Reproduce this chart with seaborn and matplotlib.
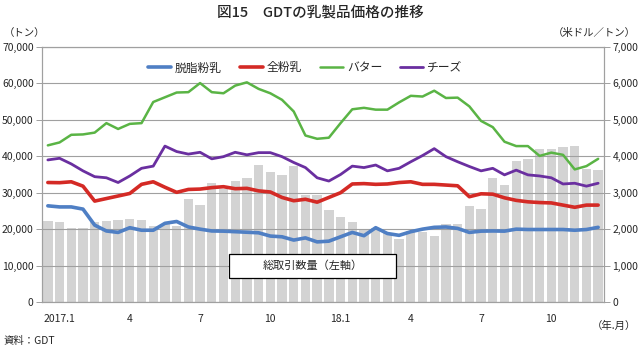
import numpy as np
import pandas as pd
import matplotlib
matplotlib.use("Agg")
import matplotlib.pyplot as plt
import seaborn as sns
from matplotlib.patches import Rectangle
from matplotlib.ticker import FuncFormatter

# GDT auctions, 2 per month, 2017.1 - 2018.12
volume = [22300, 22000, 20200, 20400, 22000, 22300, 22500, 22800, 22500, 21000,
          21500, 21000, 28400, 26500, 32600, 31000, 33300, 34000, 37700, 35600,
          35000, 37200, 29400, 29400, 25200, 23200, 22000, 19900, 20300, 19000,
          17200, 19500, 19300, 18000, 21500, 21500, 26400, 25400, 34100, 32100,
          38700, 39200, 42000, 42000, 42500, 42900, 36400, 36100]
smp = [2640, 2610, 2610, 2550, 2110, 1950, 1910, 2040, 1970, 1970,
       2160, 2210, 2060, 2000, 1950, 1945, 1930, 1915, 1900, 1810,
       1790, 1700, 1760, 1650, 1670, 1790, 1910, 1820, 2040, 1880,
       1830, 1930, 2000, 2050, 2060, 2020, 1910, 1945, 1950, 1945,
       2000, 1990, 1990, 1990, 1990, 1970, 1990, 2050]
wmp = [3280, 3275, 3300, 3180, 2770, 2840, 2910, 2980, 3230, 3300,
       3150, 3010, 3090, 3100, 3140, 3165, 3110, 3120, 3050, 3020,
       2870, 2780, 2820, 2740, 2870, 3000, 3240, 3250, 3230, 3240,
       3280, 3300, 3230, 3230, 3210, 3190, 2890, 2970, 2960, 2860,
       2790, 2750, 2730, 2720, 2660, 2600, 2660, 2660]
butter = [4300, 4380, 4590, 4600, 4650, 4910, 4750, 4890, 4910, 5490,
          5620, 5750, 5760, 6010, 5760, 5730, 5940, 6030, 5850, 5730,
          5550, 5230, 4570, 4480, 4510, 4910, 5290, 5330, 5280, 5280,
          5480, 5660, 5640, 5800, 5600, 5610, 5370, 4970, 4800, 4400,
          4280, 4280, 4010, 4100, 4040, 3640, 3730, 3930]
cheese = [3900, 3945, 3790, 3600, 3440, 3410, 3280, 3460, 3670, 3730,
          4280, 4130, 4060, 4110, 3930, 3990, 4110, 4040, 4100, 4100,
          3990, 3830, 3690, 3410, 3320, 3500, 3730, 3690, 3760, 3600,
          3670, 3850, 4020, 4210, 3990, 3850, 3720, 3600, 3670, 3490,
          3620, 3490, 3460, 3410, 3240, 3260, 3180, 3260]
month_labels = ["2017.1", "4", "7", "10", "18.1", "4", "7", "10"]
label_idx = [1, 7, 13, 19, 25, 31, 37, 43]

series = [("脱脂粉乳", smp, "#4f7fc4", 2.6),
          ("全粉乳", wmp, "#d42a25", 2.6),
          ("バター", butter, "#5ab445", 1.8),
          ("チーズ", cheese, "#6a2fa0", 2.0)]

sns.set_style("white")
plt.rcParams['font.family'] = ['Noto Sans CJK JP', 'DejaVu Sans']
grey = "#a0a0a0"

fig = plt.figure(figsize=(6.4, 3.53), dpi=100)
ax = fig.add_axes([42 / 640, 1 - 302 / 353, 562 / 640, 255 / 353])

n = len(volume)
df = pd.DataFrame({"idx": np.arange(n), "volume": volume})
sns.barplot(data=df, x="idx", y="volume", color="#d3d3d3", saturation=1,
            width=0.8, edgecolor="none", ax=ax, zorder=1)

# 総取引数量 label box
ax.add_patch(Rectangle((0.333, 0.094), 0.297, 0.094, transform=ax.transAxes,
                       facecolor="white", edgecolor="black", lw=0.9, zorder=3))
ax.text(0.4815, 0.141, "総取引数量（左軸）", transform=ax.transAxes,
        ha="center", va="center", fontsize=8, zorder=4)

ax2 = ax.twinx()
for name, vals, col, lw in series:
    d = pd.DataFrame({"idx": np.arange(n), "v": vals})
    sns.lineplot(data=d, x="idx", y="v", color=col, lw=lw, label=name, ax=ax2)

ax.set_ylim(0, 70000)
ax.set_yticks(np.arange(0, 70001, 10000))
ax.yaxis.set_major_formatter(FuncFormatter(lambda v, p: f"{v:,.0f}"))
ax2.set_ylim(0, 7000)
ax2.set_yticks(np.arange(0, 7001, 1000))
ax2.yaxis.set_major_formatter(FuncFormatter(lambda v, p: f"{v:,.0f}"))

ax.set_xlim(-0.5, n - 0.5)
ax.set_xticks(label_idx)
ax.set_xticklabels(month_labels)
ax.set_xticks(np.arange(-0.5, n, 1), minor=True)
ax.tick_params(axis="x", which="major", length=0, pad=9, labelsize=7.5)
ax.tick_params(axis="x", which="minor", length=3, width=0.7, color=grey, direction="out")
ax.tick_params(axis="y", length=4, width=0.7, color=grey, direction="out", labelsize=7.5, pad=2)
ax2.tick_params(axis="y", length=4, width=0.7, color=grey, direction="out", labelsize=7.5, pad=2)
ax.set_xlabel("")
ax.set_ylabel("")
ax2.set_xlabel("")
ax2.set_ylabel("")

ax.set_axisbelow(False)
ax.yaxis.grid(True, color=grey, lw=0.8)
ax.xaxis.grid(False)
for a in (ax, ax2):
    for s in a.spines.values():
        s.set_color(grey)
        s.set_linewidth(0.8)

leg = ax2.legend(loc="center", bbox_to_anchor=(0.468, 0.918), ncol=4, frameon=False,
                 fontsize=8.5, handlelength=2.0, columnspacing=1.5, handletextpad=0.3)

fig.text(0.5, 1 - 12 / 353, "図15　GDTの乳製品価格の推移", ha="center", va="center",
         fontsize=10.5, fontweight="medium")
fig.text(4 / 640, 1 - 33 / 353, "（トン）", ha="left", va="center", fontsize=7.5)
fig.text(636 / 640, 1 - 33 / 353, "（米ドル／トン）", ha="right", va="center", fontsize=7.5)
fig.text(636 / 640, 1 - 326 / 353, "（年.月）", ha="right", va="center", fontsize=7.5)
fig.text(4 / 640, 1 - 341 / 353, "資料：GDT", ha="left", va="center", fontsize=7.5)

fig.savefig("out.png", dpi=100)
